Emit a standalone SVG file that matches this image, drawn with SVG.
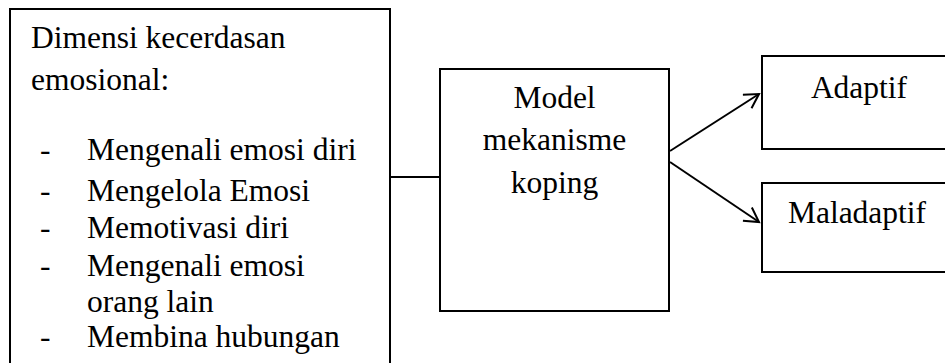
<svg xmlns="http://www.w3.org/2000/svg" width="945" height="363" viewBox="0 0 945 363">
<defs>
<style>
rect{fill:#fff;stroke:#000;stroke-width:2}
text{font-family:'Liberation Serif','Times New Roman',Times,serif;font-size:31.5px;fill:#000}
.c{text-anchor:middle}
.ln{stroke:#000;stroke-width:2;fill:none}
</style>
<marker id="ah" markerWidth="18" markerHeight="18" refX="15" refY="9" orient="auto" markerUnits="userSpaceOnUse">
<path d="M1,1 L15,9 L1,17" fill="none" stroke="#000" stroke-width="2"/>
</marker>
</defs>
<g id="connectors">
<path class="ln" d="M390,177 H440"/>
<path class="ln" d="M670,151 L759,94" marker-end="url(#ah)"/>
<path class="ln" d="M670,162 L759,222" marker-end="url(#ah)"/>
</g>
<g id="dimensi">
<rect x="10" y="9" width="380" height="370"/>
<text x="31" y="48">Dimensi kecerdasan</text>
<text x="31" y="90">emosional:</text>
<text x="40" y="160">-</text><text x="87" y="160">Mengenali emosi diri</text>
<text x="40" y="201">-</text><text x="87" y="201">Mengelola Emosi</text>
<text x="40" y="238">-</text><text x="87" y="238">Memotivasi diri</text>
<text x="40" y="276">-</text><text x="87" y="276">Mengenali emosi</text>
<text x="87" y="312">orang lain</text>
<text x="40" y="347">-</text><text x="87" y="347">Membina hubungan</text>
</g>
<g id="model">
<rect x="440" y="69" width="229" height="242"/>
<text class="c" x="554.5" y="108">Model</text>
<text class="c" x="554.5" y="150">mekanisme</text>
<text class="c" x="554.5" y="193">koping</text>
</g>
<g id="adaptif">
<rect x="762" y="56" width="200" height="93"/>
<text class="c" x="859" y="98">Adaptif</text>
</g>
<g id="maladaptif">
<rect x="762" y="183" width="200" height="89"/>
<text class="c" x="857" y="223">Maladaptif</text>
</g>
</svg>
